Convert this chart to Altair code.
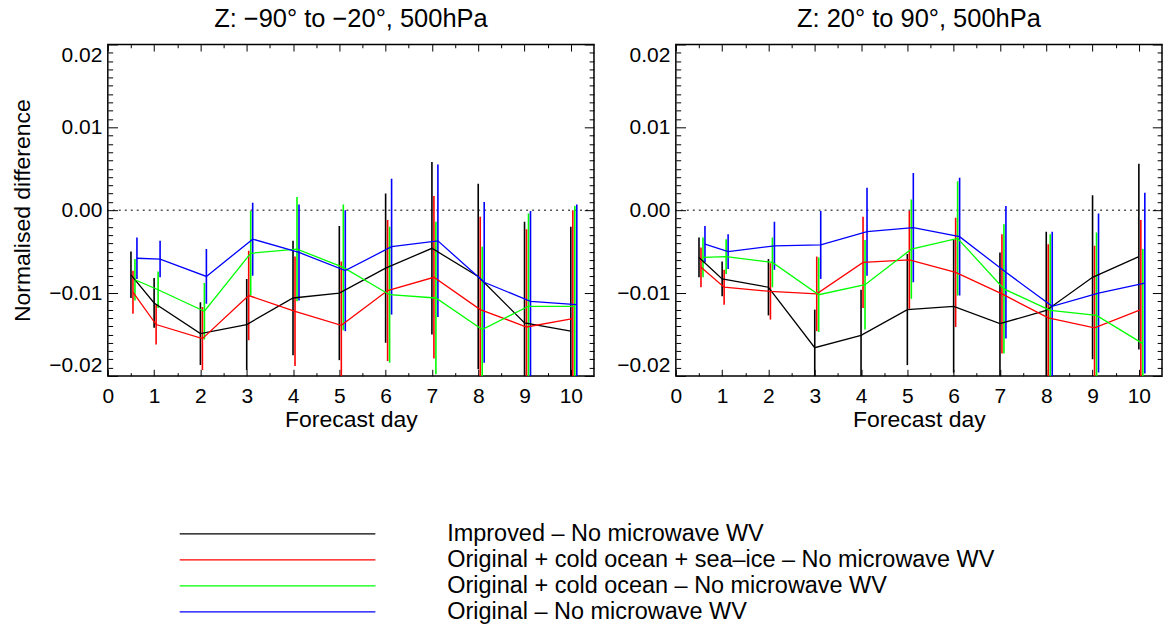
import altair as alt
import pandas as pd

FONT = "Liberation Sans"

days = [0.5, 1, 2, 3, 4, 5, 6, 7, 8, 9, 10]
series_names = [
    "Improved – No microwave WV",
    "Original + cold ocean + sea–ice – No microwave WV",
    "Original + cold ocean – No microwave WV",
    "Original – No microwave WV",
]
colors = ["#000000", "#ff0000", "#00ff00", "#0000ff"]

# values in units of 0.01 (normalised difference)
# Southern panel  (-90 to -20)
imp_s = [-0.78, -1.12, -1.49, -1.38, -1.06, -1.00, -0.70, -0.46, -0.80, -1.36, -1.46]
imp_s_err = [0.28, 0.30, 0.38, 0.55, 0.69, 0.81, 0.90, 1.04, 1.12, 1.22, 1.26]
sea_s = [-0.99, -1.38, -1.55, -1.03, -1.22, -1.39, -0.97, -0.81, -1.20, -1.41, -1.31]
sea_s_err = [0.26, 0.24, 0.38, 0.54, 0.66, 0.77, 0.85, 0.98, 1.12, 1.18, 1.31]
cold_s = [-0.84, -0.96, -1.22, -0.52, -0.47, -0.69, -1.02, -1.06, -1.44, -1.16, -1.16]
cold_s_err = [0.25, 0.22, 0.34, 0.51, 0.63, 0.76, 0.82, 0.92, 1.00, 1.12, 1.21]
orig_s = [-0.58, -0.59, -0.80, -0.35, -0.51, -0.73, -0.44, -0.37, -0.87, -1.10, -1.14]
orig_s_err = [0.25, 0.22, 0.33, 0.44, 0.58, 0.73, 0.82, 0.92, 0.97, 1.09, 1.21]

# Northern panel (20 to 90)
imp_n = [-0.57, -0.83, -0.93, -1.66, -1.51, -1.20, -1.16, -1.37, -1.21, -0.81, -0.56]
imp_n_err = [0.24, 0.21, 0.34, 0.46, 0.55, 0.67, 0.80, 0.86, 0.95, 0.99, 1.12]
sea_n = [-0.69, -0.93, -0.98, -1.01, -0.63, -0.60, -0.75, -1.01, -1.30, -1.42, -1.20]
sea_n_err = [0.24, 0.21, 0.34, 0.45, 0.55, 0.59, 0.66, 0.72, 0.89, 0.99, 1.08]
cold_n = [-0.57, -0.56, -0.63, -1.02, -0.90, -0.47, -0.34, -0.95, -1.21, -1.27, -1.61]
cold_n_err = [0.24, 0.21, 0.30, 0.45, 0.54, 0.60, 0.69, 0.78, 0.92, 1.00, 1.14]
orig_n = [-0.41, -0.50, -0.43, -0.42, -0.26, -0.21, -0.32, -0.75, -1.16, -1.00, -0.88]
orig_n_err = [0.22, 0.21, 0.29, 0.41, 0.53, 0.66, 0.71, 0.80, 0.90, 0.96, 1.09]

x_major = list(range(0, 11))
x_minor = [i + 0.5 for i in range(0, 10)]
y_major = [-0.02, -0.01, 0.0, 0.01, 0.02]
y_minor = [round(i * 0.001, 3) for i in range(-20, 21) if i % 10 != 0]

OFFSET = 0.043  # horizontal stagger between series


def build_df(vals, errs):
    rows = []
    for k, name in enumerate(series_names):
        for d, v, e in zip(days, vals[k], errs[k]):
            rows.append(dict(series=name, xpos=d + k * OFFSET,
                             val=v * 0.01, lo=(v - e) * 0.01, hi=(v + e) * 0.01))
    return pd.DataFrame(rows)


df_s = build_df([imp_s, sea_s, cold_s, orig_s], [imp_s_err, sea_s_err, cold_s_err, orig_s_err])
df_n = build_df([imp_n, sea_n, cold_n, orig_n], [imp_n_err, sea_n_err, cold_n_err, orig_n_err])

W, H = 487, 332
XT, YT = 6.6, 9.7

xs = alt.Scale(domain=[0, 10.5], nice=False, zero=False)
ys = alt.Scale(domain=[-0.02, 0.02], nice=False, zero=False)
col = alt.Color("series:N", scale=alt.Scale(domain=series_names, range=colors), legend=None)

dummy = pd.DataFrame({"tx": [0.0], "ty": [0.0]})
zero_df = pd.DataFrame({"z": [0.0]})


def tick_layer(xax, yax):
    return alt.Chart(dummy).mark_point(opacity=0).encode(
        x=alt.X("tx:Q", scale=xs, axis=xax),
        y=alt.Y("ty:Q", scale=ys, axis=yax),
    )


def panel(df, title, ytitle, with_legend):
    bars = alt.Chart(df).mark_rule(strokeWidth=1.6, clip=True).encode(
        x=alt.X("xpos:Q", scale=xs, axis=None),
        y=alt.Y("lo:Q", scale=ys, axis=None),
        y2="hi:Q",
        color=col,
    )
    xmaj = alt.Axis(values=x_major, format="d", orient="bottom", tickSize=XT, offset=-XT,
                    labelPadding=10, labelFlush=False, labelOverlap=False,
                    title="Forecast day", titlePadding=2)
    ymaj_kwargs = dict(values=y_major, format=".2f", orient="left", tickSize=YT, offset=-YT,
                       labelPadding=6, labelFlush=True, labelOverlap=False)
    if ytitle:
        ymaj = alt.Axis(title=ytitle, titlePadding=14, **ymaj_kwargs)
    else:
        ymaj = alt.Axis(title="", **ymaj_kwargs)
    lines = alt.Chart(df).mark_line(strokeWidth=1.3, clip=True).encode(
        x=alt.X("xpos:Q", scale=xs, axis=xmaj),
        y=alt.Y("val:Q", scale=ys, axis=ymaj),
        color=col,
    )
    zero = alt.Chart(zero_df).mark_rule(strokeDash=[2, 4], color="black", strokeWidth=1).encode(
        y=alt.Y("z:Q", scale=ys, axis=None)
    )
    t1 = tick_layer(
        alt.Axis(values=x_minor, orient="bottom", labels=False, tickSize=XT / 2, offset=-XT / 2, title=""),
        alt.Axis(values=y_minor, orient="left", labels=False, tickSize=YT / 2, offset=-YT / 2, title=""),
    )
    t2 = tick_layer(
        alt.Axis(values=x_major, orient="top", labels=False, tickSize=XT, offset=-XT, title=""),
        alt.Axis(values=y_major, orient="right", labels=False, tickSize=YT, offset=-YT, title=""),
    )
    t3 = tick_layer(
        alt.Axis(values=x_minor, orient="top", labels=False, tickSize=XT / 2, offset=-XT / 2, title=""),
        alt.Axis(values=y_minor, orient="right", labels=False, tickSize=YT / 2, offset=-YT / 2, title=""),
    )
    layers = [zero, bars, lines, t1, t2, t3]
    if with_legend:
        leg_df = pd.DataFrame({"series": series_names, "row": list(range(len(series_names)))})
        rowscale = alt.Scale(domain=[0, 3], range=[490.3, 568.3], nice=False, zero=False)
        leg_lines = alt.Chart(leg_df).mark_rule(strokeWidth=1.3).encode(
            x=alt.value(72), x2=alt.value(268),
            y=alt.Y("row:Q", scale=rowscale, axis=None),
            color=col,
        )
        leg_text = alt.Chart(leg_df).mark_text(align="left", baseline="middle", fontSize=23.5,
                                               font=FONT, color="black").encode(
            x=alt.value(340),
            y=alt.Y("row:Q", scale=rowscale, axis=None),
            text="series:N",
        )
        layers += [leg_lines, leg_text]
    return alt.layer(*layers).resolve_scale(y="independent").resolve_axis(
        x="independent", y="independent"
    ).properties(
        width=W, height=H,
        title=alt.TitleParams(title, font=FONT, fontSize=25.5, fontWeight="normal",
                              color="black", offset=11.5, anchor="middle"),
    )


left = panel(df_s, "Z: −90° to −20°, 500hPa", "Normalised difference", True)
right = panel(df_n, "Z: 20° to 90°, 500hPa", None, False)

chart = alt.hconcat(left, right, spacing=82, bounds="flush").properties(
    padding={"left": 11, "top": 5, "right": 3, "bottom": 0}
).configure_view(stroke="black", strokeWidth=1.5).configure_axis(
    labelFont=FONT, titleFont=FONT, labelFontSize=21, titleFontSize=23,
    titleFontWeight="normal", labelColor="black", titleColor="black",
    tickColor="black", tickWidth=1, grid=False, domain=False,
)

chart.save("out.html", embed_options={"renderer": "svg", "actions": False})
